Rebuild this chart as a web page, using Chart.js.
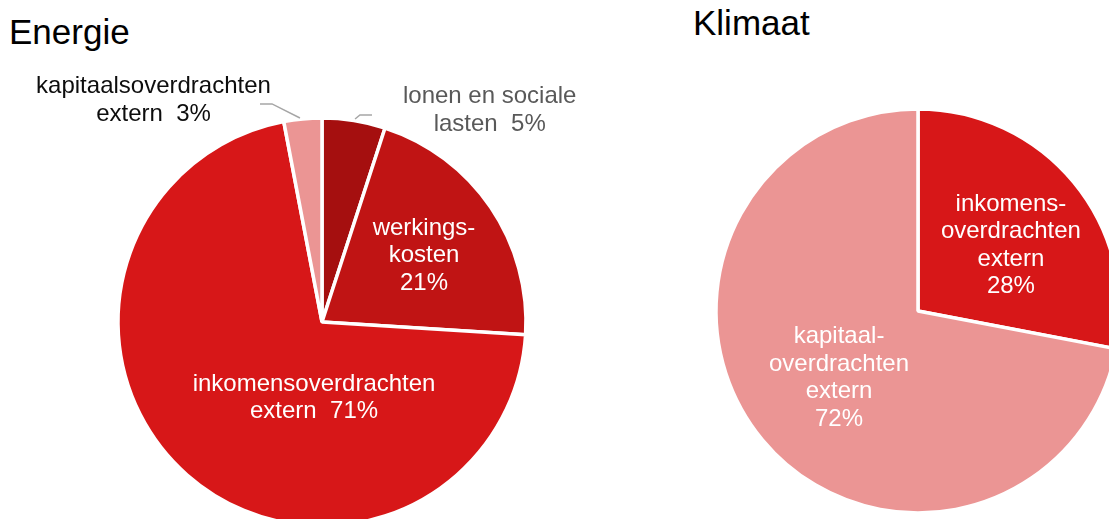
<!DOCTYPE html>
<html>
<head>
<meta charset="utf-8">
<script src="https://cdn.jsdelivr.net/npm/chart.js@4.4.0/dist/chart.umd.min.js"></script>
<style>
  html, body { margin: 0; padding: 0; background: #fff; overflow: hidden; }
  body { width: 1109px; height: 519px; position: relative; font-family: "Liberation Sans", Arial, sans-serif; }
  .title { position: absolute; font-size: 35px; line-height: 35px; color: #000; }
  canvas { position: absolute; top: 0; }
</style>
</head>
<body>
<div class="title" style="left:9px; top:13.5px;">Energie</div>
<div class="title" style="left:693px; top:4.5px;">Klimaat</div>
<canvas id="energie" width="640" height="540" style="left:0;"></canvas>
<canvas id="klimaat" width="560" height="540" style="left:640px;"></canvas>
<script>
// Energie
const energieLabels = ['lonen en sociale\nlasten', 'werkings-\nkosten', 'inkomensoverdrachten\nextern', 'kapitaalsoverdrachten\nextern'];
const energieValues = [5, 21, 71, 3];
const energieColors = ['#a50f0f', '#c01414', '#d71718', '#eb9594'];

// Klimaat
const klimaatLabels = ['inkomens-\noverdrachten\nextern', 'kapitaal-\noverdrachten\nextern'];
const klimaatValues = [28, 72];
const klimaatColors = ['#d71718', '#eb9594'];

// label text drawn on top of the slices, positions in units of the radius
const sliceLabels = {
  id: 'sliceLabels',
  afterDatasetsDraw(chart, args, opts) {
    const ctx = chart.ctx;
    const meta = chart.getDatasetMeta(0);
    const labels = chart.data.labels;
    const values = chart.data.datasets[0].data;
    ctx.save();
    ctx.font = '24px "Liberation Sans", Arial, sans-serif';
    ctx.textAlign = 'center';
    ctx.textBaseline = 'middle';
    meta.data.forEach((arc, i) => {
      const cx = arc.x, cy = arc.y, r = arc.outerRadius;
      const p = opts.pos[i];
      let lines = labels[i].split('\n');
      if (opts.inline[i]) {
        lines[lines.length - 1] += '  ' + values[i] + '%';
      } else {
        lines.push(values[i] + '%');
      }
      const lh = 27.5;
      const x = cx + p[0] * r;
      const y0 = cy + p[1] * r - (lines.length - 1) * lh / 2 + 1.5;
      ctx.fillStyle = opts.color[i];
      lines.forEach((l, k) => ctx.fillText(l, x, y0 + k * lh));

      const lead = opts.leaders && opts.leaders[i];
      if (lead) {
        ctx.strokeStyle = '#a6a6a6';
        ctx.lineWidth = 1.5;
        ctx.beginPath();
        lead.forEach((pt, k) => {
          const lx = cx + pt[0] * r, ly = cy + pt[1] * r;
          if (k === 0) ctx.moveTo(lx, ly); else ctx.lineTo(lx, ly);
        });
        ctx.stroke();
      }
    });
    ctx.restore();
  }
};

function makePie(id, labels, values, colors, padding, labelOpts) {
  return new Chart(document.getElementById(id), {
    type: 'pie',
    data: {
      labels: labels,
      datasets: [{
        data: values,
        backgroundColor: colors,
        borderColor: '#ffffff',
        borderWidth: 3.5
      }]
    },
    options: {
      responsive: false,
      animation: false,
      events: [],
      layout: { padding: padding },
      plugins: {
        legend: { display: false },
        tooltip: { enabled: false },
        sliceLabels: labelOpts
      }
    },
    plugins: [sliceLabels]
  });
}

makePie('energie', energieLabels, energieValues, energieColors,
  { left: 116.25, top: 116.25, right: 112.25, bottom: 12.25 },
  {
    pos: [[0.822, -1.044], [0.5, -0.333], [-0.039, 0.365], [-0.826, -1.093]],
    inline: [true, false, true, true],
    color: ['#595959', '#ffffff', '#ffffff', '#0d0d0d'],
    leaders: [
      [[0.162, -0.995], [0.186, -1.015], [0.245, -1.015]],
      null,
      null,
      [[-0.304, -1.069], [-0.245, -1.069], [-0.108, -1.0]]
    ]
  });

makePie('klimaat', klimaatLabels, klimaatValues, klimaatColors,
  { left: 74.25, top: 107.25, right: 78.25, bottom: 25.25 },
  {
    pos: [[0.46, -0.332], [-0.391, 0.324]],
    inline: [false, false],
    color: ['#ffffff', '#ffffff']
  });
</script>
</body>
</html>
